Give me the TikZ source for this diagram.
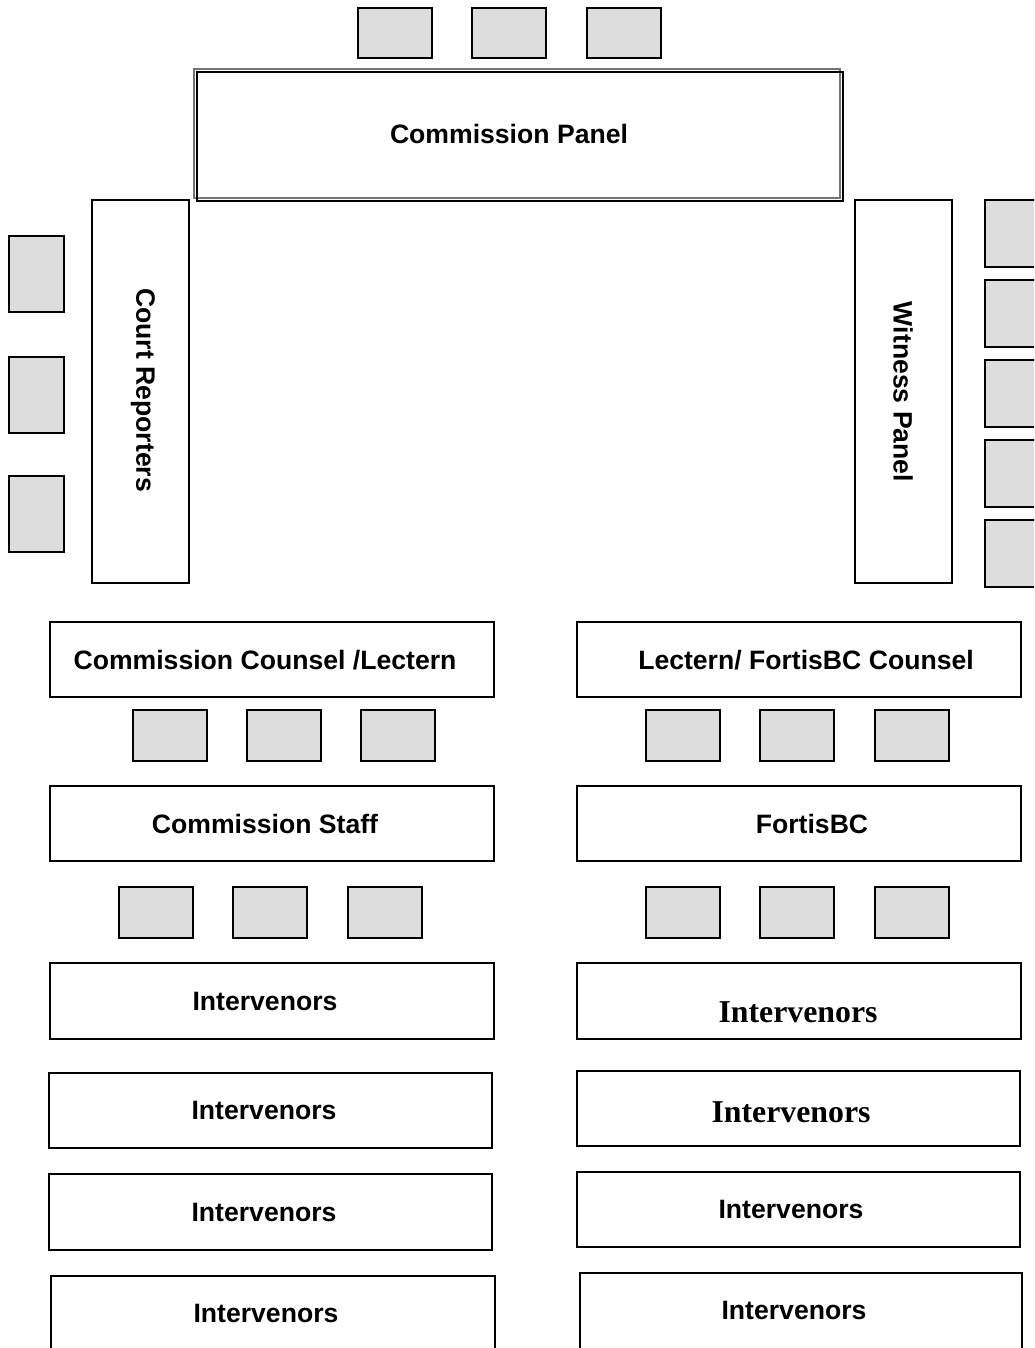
\documentclass[tikz,border=0pt]{standalone}
\usepackage{fontspec}
\setmainfont{Liberation Sans}
\newfontfamily\timesbf{Liberation Serif}
\definecolor{seatgray}{HTML}{DDDDDD}
\tikzset{
  desk/.style={draw=black,line width=1pt,fill=white},
  seat/.style={draw=black,line width=1pt,fill=seatgray},
  lbl/.style={font=\fontsize{13.3}{16}\selectfont\bfseries,inner sep=0pt},
  lblserif/.style={font=\timesbf\fontsize{15.9}{19}\selectfont\bfseries,inner sep=0pt},
}
\begin{document}
\begin{tikzpicture}[x=0.5pt,y=-0.5pt]
  \useasboundingbox (0,0) rectangle (1034,1348);
  \clip (0,0) rectangle (1034,1348);
  % seats
  \foreach \sx in {358,472,587} \draw[seat] (\sx,8) rectangle ++(74,50);
  \foreach \sy in {236,357,476} \draw[seat] (9,\sy) rectangle ++(55,76);
  \foreach \sy in {200,280,360,440,520} \draw[seat] (985,\sy) rectangle ++(60,67);
  \foreach \sx in {133,247,361,646,760,875} \draw[seat] (\sx,710) rectangle ++(74,51);
  \foreach \sx in {119,233,348,646,760,875} \draw[seat] (\sx,887) rectangle ++(74,51);
  % front
  \draw[desk,draw=black!55,line width=1.2pt] (194,69) rectangle (840,198);
  \draw[line width=1pt] (197,72) rectangle (843,201);
  \node[lbl] (panel) at (509,134) {Commission Panel};
  \draw[desk] (92,200) rectangle (189,583);
  \node[lbl,rotate=-90] (reporters) at (143,390) {Court Reporters};
  \draw[desk] (855,200) rectangle (952,583);
  \node[lbl,rotate=-90] (witness) at (903,392) {Witness Panel};
  % rows
  \draw[desk] (50,622) rectangle (494,697);
  \node[lbl] (counsel) at (265,660) {Commission Counsel /Lectern};
  \draw[desk] (577,622) rectangle (1021,697);
  \node[lbl] (fcounsel) at (806,660) {Lectern/ FortisBC Counsel};
  \draw[desk] (50,786) rectangle (494,861);
  \node[lbl] (staff) at (265,824) {Commission Staff};
  \draw[desk] (577,786) rectangle (1021,861);
  \node[lbl] (fortis) at (812,824) {FortisBC};
  \draw[desk] (50,963) rectangle (494,1039);
  \node[lbl] (int1) at (265,1001) {Intervenors};
  \draw[desk] (577,963) rectangle (1021,1039);
  \node[lblserif] (int2) at (798,1012) {Intervenors};
  \draw[desk] (49,1073) rectangle (492,1148);
  \node[lbl] (int3) at (264,1110) {Intervenors};
  \draw[desk] (577,1071) rectangle (1020,1146);
  \node[lblserif] (int4) at (791,1112) {Intervenors};
  \draw[desk] (49,1174) rectangle (492,1250);
  \node[lbl] (int5) at (264,1212) {Intervenors};
  \draw[desk] (577,1172) rectangle (1020,1247);
  \node[lbl] (int6) at (791,1209) {Intervenors};
  \draw[desk] (51,1276) rectangle (495,1360);
  \node[lbl] (int7) at (266,1313) {Intervenors};
  \draw[desk] (580,1273) rectangle (1022,1360);
  \node[lbl] (int8) at (794,1310) {Intervenors};
\end{tikzpicture}
\end{document}
